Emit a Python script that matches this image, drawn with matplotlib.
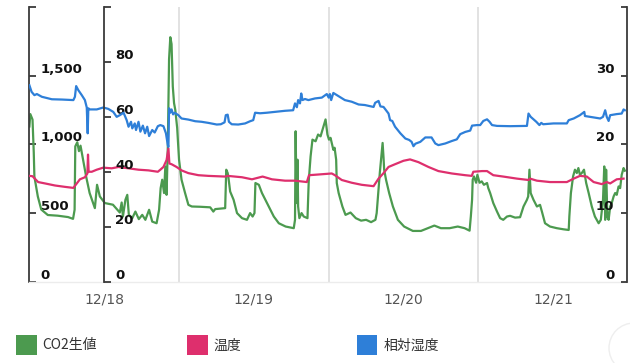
import matplotlib
matplotlib.use('Agg')
import matplotlib.pyplot as plt
from matplotlib.patches import Rectangle, Ellipse

# ---------------- data (hours since 12/18 00:00) ----------------
co2_hours = [0.0, 0.15, 0.5, 0.7, 0.8, 1.35, 1.9, 2.95, 4.55, 6.2, 7.0, 7.25, 7.36, 7.68, 7.95, 8.2, 8.6,
             9.1, 9.66, 10.5, 10.85, 11.3, 12.1, 13.4, 14.5, 14.8, 15.0, 15.4, 15.7, 15.95, 16.5, 17.0,
             17.55, 18.1, 18.6, 19.2, 19.7, 20.4, 20.8, 21.05, 21.3, 21.6, 21.8, 22.0, 22.2, 22.4, 22.6,
             22.8, 23.0, 23.2, 23.4, 23.7, 24.0, 24.4, 24.97, 25.5, 26.05, 27.4, 29.0, 29.5, 29.8, 31.4,
             31.57, 31.8, 31.9, 32.2, 32.75, 33.3, 34.1, 34.9, 35.4, 35.8, 36.1, 36.25, 36.8, 37.3, 38.4,
             39.2, 40.0, 41.1, 42.4, 42.6, 42.7, 42.85, 43.0, 43.1, 43.3, 43.65, 44.0, 44.6, 44.8, 45.1,
             45.4, 45.9, 46.3, 46.7, 47.25, 47.5, 47.8, 48.05, 48.3, 48.6, 48.75, 48.95, 49.2, 49.3, 49.6,
             50.2, 50.7, 51.5, 52.35, 53.2, 54.0, 54.8, 55.5, 55.7, 55.95, 56.2, 56.4, 56.65, 56.8, 56.9,
             57.2, 57.7, 58.3, 59.1, 60.1, 61.5, 62.8, 63.9, 64.95, 66.0, 67.4, 68.7, 69.8, 70.6, 70.8,
             71.0, 71.1, 71.3, 71.65, 71.85, 72.2, 72.55, 72.9, 73.4, 73.6, 73.9, 74.4, 75.0, 75.5, 76.0,
             76.6, 77.1, 77.9, 78.7, 79.25, 79.8, 80.0, 80.2, 80.4, 80.85, 81.4, 81.9, 82.2, 82.7, 83.5,
             84.6, 85.65, 86.5, 86.6, 86.85, 87.2, 87.5, 87.8, 88.05, 88.3, 88.6, 88.95, 89.3, 89.7, 90.2,
             90.7, 91.3, 91.65, 92.0, 92.2, 92.35, 92.5, 92.7, 92.9, 93.15, 93.4, 93.7, 93.95, 94.2, 94.5,
             94.75, 95.0, 95.3, 95.5]
co2_values = [1130, 1220, 1180, 940, 765, 620, 525, 485, 480, 470, 457, 523, 985, 1015, 950, 990, 890,
              765, 645, 535, 705, 620, 572, 560, 503, 576, 474, 596, 632, 486, 462, 510,
              455, 486, 450, 523, 437, 425, 523, 681, 742, 645, 839, 632, 985, 1620, 1780,
              1730, 1420, 1300, 1250, 1120, 888, 742, 645, 559, 547, 545, 541, 510, 528, 535,
              815, 791, 766, 656, 596, 499, 462, 450, 499, 474, 499, 718, 705, 645, 547,
              474, 425, 401, 389, 450, 1095, 572, 888, 547, 462, 499, 474, 462, 730, 912,
              1034, 1022, 1071, 1058, 1144, 1181, 1071, 1034, 1047, 990, 960, 975, 888, 718, 645,
              547, 486, 503, 462, 444, 450, 433, 450, 499, 645, 791, 888, 1010, 903, 815,
              742, 645, 547, 450, 401, 369, 369, 389, 408, 389, 389, 401, 389, 371, 474,
              596, 742, 766, 720, 778, 720, 730, 705, 718, 681, 645, 572, 510, 462, 450,
              474, 479, 466, 469, 547, 596, 620, 815, 645, 596, 547, 559, 510, 425, 401,
              389, 381, 376, 474, 645, 766, 815, 791, 827, 778, 791, 815, 718, 645, 547,
              474, 425, 450, 596, 839, 450, 815, 474, 450, 547, 572, 620, 645, 632, 693,
              681, 778, 827, 808]

temp_hours = [0.0, 0.5, 1.4, 2.5, 4.1, 5.7, 7.05, 7.6, 8.1, 8.9, 9.3, 9.4, 9.5, 10.0, 10.8, 11.85, 13.2,
              14.3, 15.9, 17.5, 19.1, 20.6, 21.0, 21.5, 22.0, 22.3, 22.45, 22.8, 23.6, 24.4, 25.5, 27.1,
              28.7, 31.4, 31.8, 34.1, 35.7, 37.4, 38.9, 41.0, 42.6, 44.5, 44.85, 46.35, 48.5, 49.0, 50.1,
              51.7, 53.3, 55.2, 56.0, 56.8, 57.6, 58.65, 60.0, 61.05, 62.4, 64.0, 65.6, 67.75, 69.9,
              70.95, 71.2, 72.6, 73.4, 74.4, 76.0, 78.2, 80.05, 80.3, 81.4, 83.5, 86.2, 87.3, 88.3, 89.4,
              90.5, 91.8, 92.6, 93.15, 94.2, 95.3]
temp_values = [15.4, 15.35, 14.5, 14.3, 14.0, 13.8, 13.65, 14.3, 14.9, 15.2, 15.75, 18.5, 16.0, 16.0, 16.3,
               16.6, 16.5, 16.7, 16.5, 16.3, 16.2, 16.0, 16.3, 16.7, 17.7, 19.4, 17.2, 17.1, 16.7, 16.2,
               15.8, 15.5, 15.4, 15.3, 15.4, 15.2, 14.9, 15.3, 14.9, 14.7, 14.7, 14.5, 15.5, 15.6, 15.75,
               15.5, 14.8, 14.4, 14.1, 13.9, 15.0, 15.8, 16.7, 17.1, 17.6, 17.8, 17.4, 16.7, 16.1, 15.75,
               15.5, 15.4, 16.0, 16.1, 16.1, 15.5, 15.3, 15.0, 14.8, 15.0, 14.7, 14.5, 14.5, 15.0, 15.4,
               15.3, 14.5, 14.2, 14.5, 14.3, 14.9, 15.0]

hum_hours = [0.0, 0.35, 0.8, 1.2, 2.0, 3.6, 5.2, 7.05, 7.3, 7.5, 7.85, 8.4, 8.9, 9.2, 9.35, 9.45, 9.7, 10.8,
             11.85, 12.65, 13.45, 14.0, 14.5, 15.1, 15.6, 15.9, 16.3, 16.5, 16.9, 17.1, 17.5, 17.8, 18.2,
             18.55, 18.9, 19.2, 19.7, 20.1, 20.6, 21.0, 21.5, 21.9, 22.2, 22.3, 22.4, 22.6, 22.8, 23.05,
             23.3, 23.9, 24.4, 25.5, 26.6, 27.6, 28.7, 30.05, 30.7, 31.3, 31.5, 31.8, 32.0, 32.45, 33.5,
             34.6, 35.4, 35.9, 36.2, 37.0, 38.1, 39.4, 41.0, 42.3, 42.6, 42.9, 43.1, 43.4, 43.6, 43.8,
             44.2, 44.75, 45.8, 46.9, 47.7, 48.0, 48.2, 48.4, 48.75, 49.6, 50.6, 51.7, 52.8, 53.8, 55.2,
             55.45, 56.0, 56.3, 56.8, 57.2, 57.6, 57.85, 58.2, 58.65, 59.5, 60.3, 60.9, 61.3, 61.6, 61.9,
             62.7, 63.5, 64.5, 65.1, 65.6, 66.7, 67.75, 68.55, 69.1, 69.9, 70.7, 71.0, 71.8, 72.3, 72.8,
             73.4, 73.8, 74.2, 75.0, 77.1, 79.8, 80.05, 80.4, 80.85, 81.3, 81.8, 82.1, 82.4, 84.05, 86.2,
             86.5, 87.3, 88.3, 89.0, 89.1, 89.9, 91.55, 92.0, 92.35, 92.6, 92.9, 93.15, 94.2, 95.0, 95.3,
             95.5]
hum_values = [71.5, 69.1, 67.9, 68.3, 67.3, 66.4, 66.3, 66.1, 67.3, 71.2, 69.7, 67.9, 66.1, 63.4, 54.0, 63.1,
              62.7, 62.7, 63.4, 62.9, 61.8, 60.0, 60.6, 61.5, 58.8, 56.4, 58.2, 55.8, 57.6, 55.2, 58.2,
              54.6, 56.8, 54.0, 56.4, 53.0, 55.2, 54.3, 56.6, 57.0, 56.6, 54.0, 49.7, 49.1, 63.1, 61.5,
              62.7, 60.9, 61.5, 60.6, 59.4, 59.0, 58.4, 58.2, 57.8, 57.2, 57.3, 58.0, 60.6, 60.8, 58.2,
              57.3, 57.2, 57.6, 58.4, 58.8, 61.5, 61.3, 61.5, 61.8, 62.2, 62.4, 64.9, 63.5, 66.1, 64.9,
              68.5, 66.1, 66.5, 66.1, 66.7, 67.0, 68.3, 67.0, 68.3, 66.1, 68.7, 67.5, 66.1, 65.5, 64.5,
              64.3, 63.6, 65.1, 65.8, 63.8, 63.6, 62.4, 61.2, 58.8, 58.5, 56.4, 54.0, 52.1, 51.6, 50.9,
              49.3, 50.2, 50.9, 52.5, 52.5, 50.3, 49.7, 50.3, 51.2, 51.8, 53.7, 54.5, 55.0, 56.8, 57.0,
              57.0, 58.5, 59.1, 58.2, 57.0, 56.7, 56.6, 56.7, 61.2, 60.0, 59.1, 58.2, 57.0, 57.8, 57.3,
              57.6, 57.6, 58.8, 59.4, 60.6, 61.8, 60.3, 60.0, 59.4, 60.0, 62.4, 60.0, 58.5, 60.6, 61.0,
              61.2, 62.7, 62.4]

day_label_hours = [12, 36, 60, 84]
day_labels = ['12/18', '12/19', '12/20', '12/21']
midnight_hours = [24, 48, 72]

co2_ticks = [0, 500, 1000, 1500, 2000]
co2_ticklabels = ['0', '500', '1,000', '1,500', '']
hum_ticks = [0, 20, 40, 60, 80, 100]
hum_ticklabels = ['0', '20', '40', '60', '80', '']
temp_ticks = [0, 10, 20, 30, 40]
temp_ticklabels = ['0', '10', '20', '30', '']

legend_labels = ['CO2生値', '温度', '相対湿度']

# ---------------- styling ----------------
C_GREEN = '#4c9a4f'
C_PINK = '#de2f6d'
C_BLUE = '#2e7fd8'
SPINE = '#3a3a3a'

W, H = 630, 363
fig = plt.figure(figsize=(W / 100, H / 100), dpi=100)
x0, x1 = 29.4, 626.7
y_top, y_bot = 7.0, 281.6
ax = fig.add_axes([x0 / W, 1 - y_bot / H, (x1 - x0) / W, (y_bot - y_top) / H])
axt = ax.twinx()
axh = ax.twinx()

ax.plot(co2_hours, co2_values, color=C_GREEN, lw=1.6, solid_joinstyle='round')
axt.plot(temp_hours, temp_values, color=C_PINK, lw=1.6, solid_joinstyle='round')
axh.plot(hum_hours, hum_values, color=C_BLUE, lw=1.6, solid_joinstyle='round')

ax.set_xlim(0, 95.8)
ax.set_ylim(0, 2000)
axt.set_ylim(0, 40)
axh.set_ylim(0, 100)

# x axis
ax.set_xticks(day_label_hours)
ax.set_xticklabels(day_labels)
ax.set_xticks(midnight_hours, minor=True)
ax.tick_params(axis='x', which='both', length=0, pad=8, labelsize=10, labelcolor='#555555')
ax.grid(which='minor', axis='x', color='#e2e2e2', lw=1.4)

# spines
for a in (ax, axt, axh):
    for s in a.spines.values():
        s.set_visible(False)
ax.spines['left'].set_visible(True)
ax.spines['left'].set_color(SPINE)
ax.spines['left'].set_linewidth(1.3)
ax.spines['bottom'].set_visible(True)
ax.spines['bottom'].set_color('#ececec')
ax.spines['bottom'].set_linewidth(1.0)

axh.yaxis.set_ticks_position('left')
axh.yaxis.set_label_position('left')
axh.spines['left'].set_visible(True)
axh.spines['left'].set_position(('axes', (104.0 - x0) / (x1 - x0)))
axh.spines['left'].set_color(SPINE)
axh.spines['left'].set_linewidth(1.3)

axt.spines['right'].set_visible(True)
axt.spines['right'].set_color(SPINE)
axt.spines['right'].set_linewidth(1.3)

# y ticks
tick_font = dict(fontsize=9.5, fontweight='bold', color='#111111')
ax.set_yticks(co2_ticks)
ax.set_yticklabels(co2_ticklabels, **tick_font)
axh.set_yticks(hum_ticks)
axh.set_yticklabels(hum_ticklabels, **tick_font)
axt.set_yticks(temp_ticks)
axt.set_yticklabels(temp_ticklabels, **tick_font)

ax.tick_params(axis='y', direction='in', length=5, width=1.3, color=SPINE, pad=-8)
axh.tick_params(axis='y', direction='in', length=5, width=1.3, color=SPINE, pad=-8)
axt.tick_params(axis='y', direction='in', length=4, width=1.3, color=SPINE, pad=-9)

for t in ax.get_yticklabels() + axh.get_yticklabels():
    t.set_horizontalalignment('left')
    t.set_verticalalignment('bottom')
for t in axt.get_yticklabels():
    t.set_horizontalalignment('right')
    t.set_verticalalignment('bottom')

# legend (drawn manually to match spacing)
leg_x = [16.0, 187.0, 356.7]
leg_colors = [C_GREEN, C_PINK, C_BLUE]
for lx, col, lab in zip(leg_x, leg_colors, legend_labels):
    fig.add_artist(Rectangle((lx / W, (H - 355.0) / H), 20.5 / W, 20.0 / H,
                             transform=fig.transFigure, facecolor=col, edgecolor='none'))
    fig.text((lx + 26.5) / W, (H - 345.5) / H, lab, fontsize=10, color='#333333',
             va='center', ha='left', family=['Noto Sans CJK JP', 'DejaVu Sans'])

# faint scroll button at the right edge of the page
fig.add_artist(Ellipse((634 / W, (H - 348) / H), 50 / W, 50 / H, transform=fig.transFigure,
                       facecolor='none', edgecolor='#eeeeee', lw=1.0))

fig.savefig('out.png', dpi=100)
